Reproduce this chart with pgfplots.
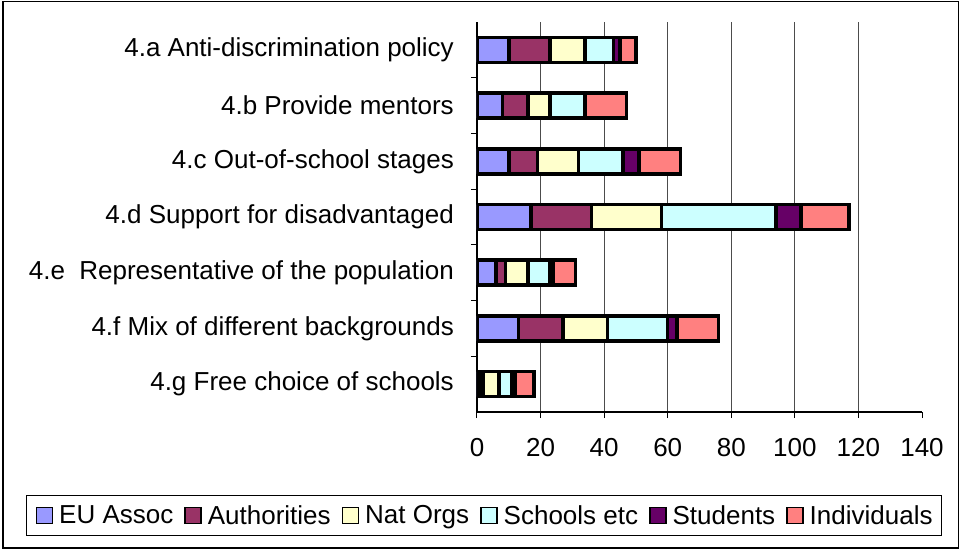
\documentclass[border=0pt]{standalone}
\usepackage{pgfplots}
\pgfplotsset{compat=1.18}
\usepackage{fontspec}
\setmainfont{Liberation Sans}
\definecolor{cEU}{HTML}{9999FF}
\definecolor{cAu}{HTML}{993366}
\definecolor{cNa}{HTML}{FFFFCC}
\definecolor{cSc}{HTML}{CCFFFF}
\definecolor{cSt}{HTML}{660066}
\definecolor{cIn}{HTML}{FF8080}
\newcommand{\bigf}{\fontsize{26}{30}\selectfont}
\pgfplotsset{mybar/.style={draw=black, line width=3.5pt, fill=#1}}
\begin{document}
\begin{tikzpicture}
\useasboundingbox (0pt,0pt) rectangle (962pt,-550pt);
\draw[line width=1.5pt] (3pt,-1.5pt) rectangle (958.5pt,-548pt);
\begin{axis}[
  at={(477pt,-412pt)}, anchor=south west,
  scale only axis, width=445pt, height=390pt,
  xbar stacked, bar width=25pt,
  xmin=0, xmax=140, ymin=-0.5, ymax=6.5,
  axis x line*=bottom, axis y line*=left,
  axis line style={line width=1.2pt, -},
  xtick={0,20,...,120}, extra x ticks={140}, extra x tick style={grid=none},
  xmajorgrids, grid style={line width=1pt, color=black!70},
  ytick={0,...,6},
  yticklabels={{4.g Free choice of schools},{4.f Mix of different backgrounds},{4.e\ \ Representative of the population~},{4.d Support for disadvantaged~},{4.c Out-of-school stages},{4.b Provide mentors~},{4.a Anti-discrimination policy}},
  minor ytick={0.5,1.5,...,5.5},
  tick align=outside, major tick length=6pt, minor tick length=6pt,
  every major y tick/.append style={draw=none},
  tick style={black, line width=1pt},
  /pgf/number format/assume math mode=true,
  tick label style={font=\bigf, inner sep=0pt},
  yticklabel shift=17pt,
  xticklabel shift=20pt,
  legend columns=6,
  legend image code/.code={\draw[#1, line width=1.5pt] (0pt,-8pt) rectangle (16pt,8pt);},
  legend style={at={(-1.013,-0.2128)}, anchor=north west, draw=black, line width=1pt,
    font=\bigf, inner xsep=9pt, inner ysep=10pt, nodes={inner sep=0pt},
    /tikz/every odd column/.append style={column sep=6pt},
    /tikz/every even column/.append style={column sep=11pt}},
]
\addplot[mybar=cEU] coordinates {(10,6) (8,5) (10,4) (17,3) (6,2) (13,1) (1,0)};
\addplot[mybar=cAu] coordinates {(13,6) (8,5) (9,4) (19,3) (3,2) (14,1) (1,0)};
\addplot[mybar=cNa] coordinates {(11,6) (7,5) (13,4) (22,3) (7,2) (14,1) (5,0)};
\addplot[mybar=cSc] coordinates {(9,6) (11,5) (14,4) (36,3) (7,2) (19,1) (4,0)};
\addplot[mybar=cSt] coordinates {(2,6) (0,5) (5,4) (8,3) (1,2) (3,1) (1,0)};
\addplot[mybar=cIn] coordinates {(5,6) (13,5) (13,4) (15,3) (7,2) (13,1) (6,0)};
\legend{EU Assoc,Authorities,Nat Orgs,Schools etc,Students,Individuals}
\end{axis}
\end{tikzpicture}
\end{document}
